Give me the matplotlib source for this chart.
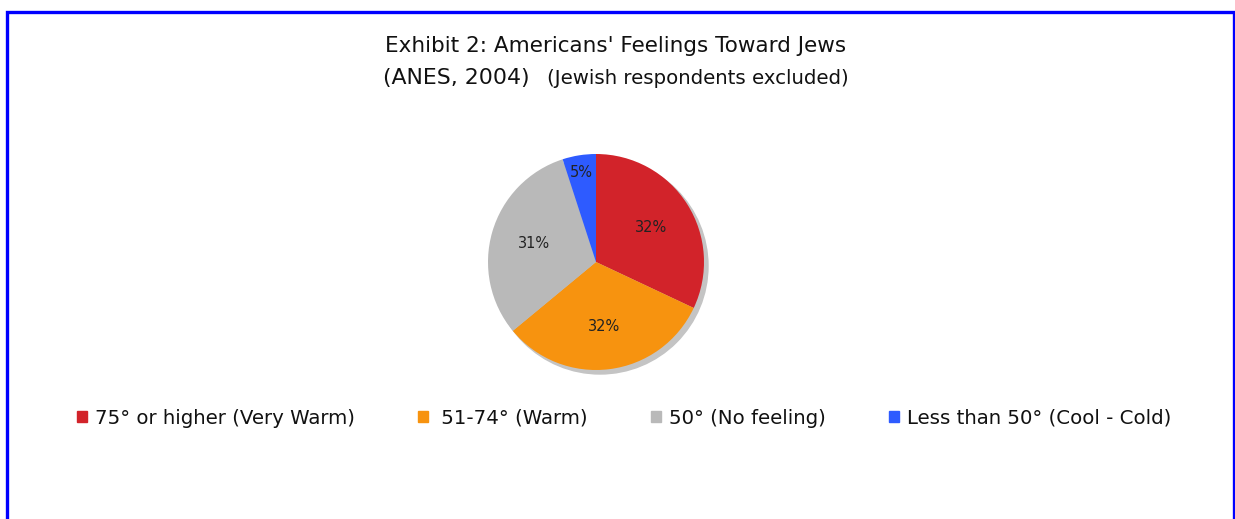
import matplotlib
matplotlib.use("Agg")
import matplotlib.pyplot as plt
from matplotlib.patches import Rectangle, Circle
import numpy as np

categories = ["75° or higher (Very Warm)", " 51-74° (Warm)", "50° (No feeling)", "Less than 50° (Cool - Cold)"]
values = [32, 32, 31, 5]
colors = ["#D2232A", "#F7930F", "#B9B9B9", "#2E5BFF"]
title1 = "Exhibit 2: Americans' Feelings Toward Jews"
title2a = "(ANES, 2004)"
title2b = "(Jewish respondents excluded)"

W, H = 1235, 519
fig = plt.figure(figsize=(W / 100, H / 100), dpi=100)
ax = fig.add_axes([0, 0, 1, 1])
ax.set_xlim(0, W)
ax.set_ylim(0, H)
ax.set_aspect("equal")
ax.axis("off")

# border
fig.patches.append(Rectangle((6.5 / W, -0.1), (1234 - 6.5) / W, (H - 11.5) / H + 0.1,
                             transform=fig.transFigure, fill=False,
                             edgecolor="#0000FF", linewidth=2.4))

cx, cy, r = 596, H - 262, 108
ax.add_patch(Circle((cx + 4, cy - 4), r, color="#C4C4C4", zorder=1))
wedges, texts, autotexts = ax.pie(values, colors=colors, startangle=90, counterclock=False,
                                  center=(cx, cy), radius=r, autopct="%d%%", pctdistance=0.6,
                                  textprops=dict(fontsize=10.5, color="#222222"),
                                  wedgeprops=dict(linewidth=0))
for w in wedges:
    w.set_zorder(2)
# blue label sits farther out
w = wedges[3]
ang = np.deg2rad((w.theta1 + w.theta2) / 2)
autotexts[3].set_position((cx + 0.84 * r * np.cos(ang), cy + 0.84 * r * np.sin(ang)))
for t in autotexts:
    t.set_zorder(3)
ax.set_xlim(0, W)
ax.set_ylim(0, H)

fig.text(615.5 / W, 1 - 46 / H, title1, ha="center", va="center", fontsize=15.5, color="#111111")
fig.text(530 / W, 1 - 78 / H, title2a, ha="right", va="center", fontsize=15.8, color="#111111")
fig.text(547 / W, 1 - 79 / H, title2b, ha="left", va="center", fontsize=14.2, color="#111111")

handles = [Rectangle((0, 0), 1, 1, color=c) for c in colors]
leg = fig.legend(handles, categories, loc="center", bbox_to_anchor=(624 / W, 1 - 418 / H),
                 ncol=4, frameon=False, fontsize=14.25, handlelength=0.5, handleheight=0.5,
                 handletextpad=0.4, columnspacing=3.19, borderpad=0, borderaxespad=0)
for t in leg.get_texts():
    t.set_color("#111111")

fig.savefig("out.png", dpi=100)
